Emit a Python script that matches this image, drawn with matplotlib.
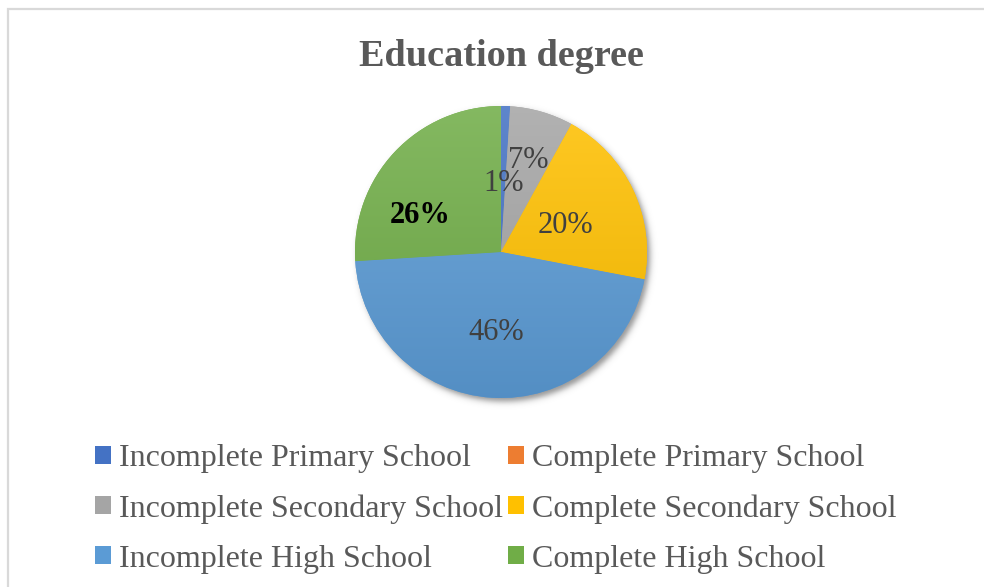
import numpy as np
import matplotlib.pyplot as plt
from matplotlib.patches import Rectangle, Patch
from matplotlib.colors import to_rgb

plt.rcParams['font.family'] = ['Liberation Serif', 'DejaVu Serif']

# Education degree shares (percent)
categories = ['Incomplete Primary School', 'Complete Primary School',
              'Incomplete Secondary School', 'Complete Secondary School',
              'Incomplete High School', 'Complete High School']
shares = [1, 0, 7, 20, 46, 26]
colors = ['#4472C4', '#ED7D31', '#A5A5A5', '#FFC000', '#5B9BD5', '#70AD47']

# label placement: radial distance (fraction of radius) and angular nudge (deg)
label_dist = [0.49, 0.0, 0.68, 0.49, 0.53, 0.62]
label_nudge = [0, 0, 0, 0, 0, 17]
label_bold = [False, False, False, False, False, True]
label_color = ['#404040', '#404040', '#404040', '#404040', '#404040', 'black']

W, H = 984, 587
fig = plt.figure(figsize=(W / 100, H / 100), dpi=100)

# chart frame
fig.patches.append(Rectangle((8 / W, -0.1), 1.1, 1 - 9 / H + 0.1,
                             transform=fig.transFigure, fill=False,
                             edgecolor='#D9D9D9', linewidth=1.6))

cx, cy, r = 501, 252, 146
pad = 1.2
ax = fig.add_axes([(cx - r * pad) / W, (H - cy - r * pad) / H,
                   2 * r * pad / W, 2 * r * pad / H])
ax.set_aspect('equal')
ax.axis('off')

# soft shadow, offset down and to the right
g = np.linspace(-pad, pad, 400)
gx, gy = np.meshgrid(g, g)
dist = np.hypot(gx - 0.018, gy + 0.028)
alpha = 0.42 * 0.5 * (1 - np.tanh((dist - 1.0) / 0.025))
shadow = np.zeros(gx.shape + (4,))
shadow[..., 3] = alpha
ax.imshow(shadow, extent=[-pad, pad, -pad, pad], origin='lower', zorder=0,
          interpolation='bilinear')

wedges, _ = ax.pie(shares, colors=colors, startangle=90, counterclock=False,
                   radius=1, wedgeprops=dict(linewidth=0))


def shade(c, f):
    rgb = np.array(to_rgb(c))
    if f >= 0:
        return rgb + (1 - rgb) * f
    return rgb * (1 + f)


# vertical gradient fill, lighter at the top
ys = np.linspace(0, 1, 200)[:, None]
for w, c in zip(wedges, colors):
    top, bot = shade(c, 0.14), shade(c, -0.08)
    img = (top[None, None, :] * (1 - ys[..., None]) + bot[None, None, :] * ys[..., None])
    img = np.repeat(img, 2, axis=1)
    im = ax.imshow(img, extent=[-1, 1, -1, 1], origin='upper', zorder=2,
                   interpolation='bilinear')
    im.set_clip_path(w)

ax.set_xlim(-pad, pad)
ax.set_ylim(-pad, pad)

for w, s, d, nd, b, lc in zip(wedges, shares, label_dist, label_nudge, label_bold, label_color):
    if s == 0:
        continue
    ang = np.deg2rad((w.theta1 + w.theta2) / 2 + nd)
    ax.text(d * np.cos(ang), d * np.sin(ang), f'{s}%', ha='center',
            va='center_baseline', fontsize=22, color=lc,
            fontweight='bold' if b else 'normal', zorder=5)

fig.text(501 / W, 1 - 56 / H, 'Education degree', ha='center', va='center',
         fontsize=27.5, fontweight='bold', color='#595959')

handles = [Patch(facecolor=c, edgecolor='none') for c in colors]
order = [0, 2, 4, 1, 3, 5]
leg = fig.legend([handles[i] for i in order], [categories[i] for i in order],
                 ncol=2, loc='upper left', bbox_to_anchor=(95 / W, 1 - 444 / H),
                 frameon=False, fontsize=23, handlelength=0.5, handleheight=0.5,
                 handletextpad=0.25, columnspacing=0.16, labelspacing=0.66,
                 borderpad=0, borderaxespad=0)
for t in leg.get_texts():
    t.set_color('#595959')

fig.savefig('out.png', dpi=100, facecolor='white')
